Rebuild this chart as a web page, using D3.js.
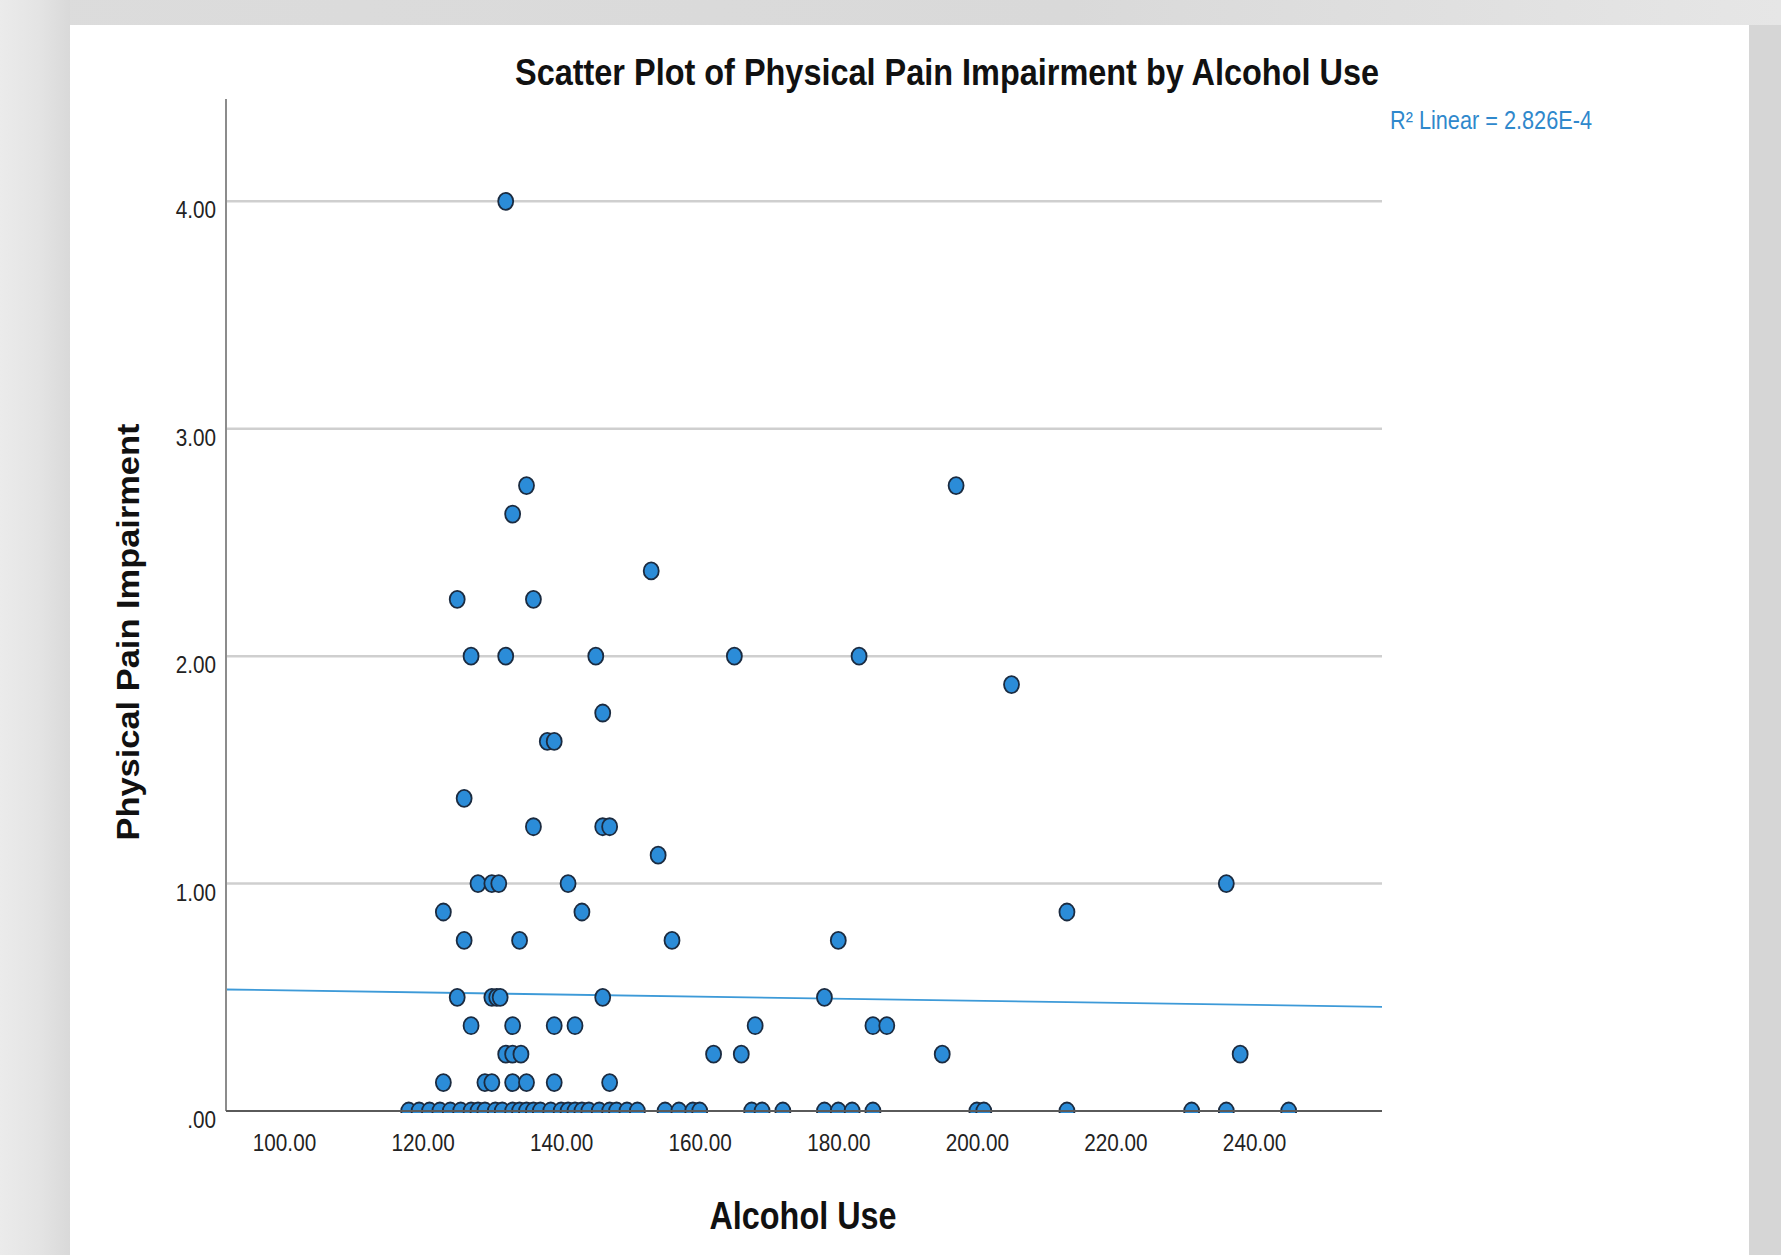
<!DOCTYPE html>
<html>
<head>
<meta charset="utf-8">
<script src="https://cdn.jsdelivr.net/npm/d3@7"></script>
<style>
  body { margin: 0; background: #dcdcdc; }
  svg { display: block; font-family: "Liberation Sans", Arial, sans-serif; }
</style>
</head>
<body>
<svg id="chart" width="1781" height="1255"></svg>
<script>
// Alcohol use score and physical pain impairment score for each respondent
const alcoholUse = [
  132,
  135, 197,
  133,
  153,
  125, 136,
  127, 132, 145, 165, 183,
  205,
  146,
  138, 139,
  126,
  136, 146, 147,
  154,
  128, 130, 131, 141, 236,
  123, 143, 213,
  126, 134, 156, 180,
  125, 130, 130.7, 131.2, 146, 178,
  127, 133, 139, 142, 168, 185, 187,
  132, 133, 134.2, 162, 166, 195, 238,
  123, 129, 130, 133, 135, 139, 147,
  118, 119.5, 121, 122.5, 124, 125.5, 127, 128, 129, 130.5, 131.5, 133, 134, 135,
  136, 137, 138.5, 140, 141, 142, 143, 144, 145.5, 147, 148, 149.5, 151,
  155, 157, 159, 160, 167.5, 169, 172, 178, 180, 182, 185, 200, 201, 213, 231, 236, 245
];
const painImpairment = [
  4.0,
  2.75, 2.75,
  2.625,
  2.375,
  2.25, 2.25,
  2.0, 2.0, 2.0, 2.0, 2.0,
  1.875,
  1.75,
  1.625, 1.625,
  1.375,
  1.25, 1.25, 1.25,
  1.125,
  1.0, 1.0, 1.0, 1.0, 1.0,
  0.875, 0.875, 0.875,
  0.75, 0.75, 0.75, 0.75,
  0.5, 0.5, 0.5, 0.5, 0.5, 0.5,
  0.375, 0.375, 0.375, 0.375, 0.375, 0.375, 0.375,
  0.25, 0.25, 0.25, 0.25, 0.25, 0.25, 0.25,
  0.125, 0.125, 0.125, 0.125, 0.125, 0.125, 0.125,
  0, 0, 0, 0, 0, 0, 0, 0, 0, 0, 0, 0, 0, 0,
  0, 0, 0, 0, 0, 0, 0, 0, 0, 0, 0, 0, 0,
  0, 0, 0, 0, 0, 0, 0, 0, 0, 0, 0, 0, 0, 0, 0, 0, 0
];

const xTicks = [100, 120, 140, 160, 180, 200, 220, 240];
const yTicks = [0, 1, 2, 3, 4];
const xDomain = [91.63, 258.47];
const yDomain = [0, 4.45];

// Linear fit line (intercept, slope) and its summary label
const fitIntercept = 0.576;
const fitSlope = -0.000456;
const fitLabel = "R\u00B2 Linear = 2.826E-4";

const titleText = "Scatter Plot of Physical Pain Impairment by Alcohol Use";
const xTitle = "Alcohol Use";
const yTitle = "Physical Pain Impairment";

const W = 1781, H = 1255;
const plot = { left: 226, right: 1382, top: 99, bottom: 1111 };
const panel = { left: 70, top: 25, right: 1749 };

const svg = d3.select("#chart");

// Page backdrop and white chart panel
const defs = svg.append("defs");
const topGrad = defs.append("linearGradient").attr("id", "topGrad").attr("x1", 0).attr("x2", 1).attr("y1", 0).attr("y2", 0);
topGrad.append("stop").attr("offset", 0).attr("stop-color", "#dcdcdc");
topGrad.append("stop").attr("offset", 0.6).attr("stop-color", "#d9d9d9");
topGrad.append("stop").attr("offset", 1).attr("stop-color", "#e6e6e6");
const leftGrad = defs.append("linearGradient").attr("id", "leftGrad").attr("x1", 0).attr("x2", 1).attr("y1", 0).attr("y2", 0);
leftGrad.append("stop").attr("offset", 0).attr("stop-color", "#ebebeb");
leftGrad.append("stop").attr("offset", 0.55).attr("stop-color", "#e4e4e4");
leftGrad.append("stop").attr("offset", 1).attr("stop-color", "#d9d9d9");

svg.append("rect").attr("width", W).attr("height", H).attr("fill", "url(#topGrad)");
svg.append("rect").attr("x", 0).attr("y", 0).attr("width", panel.left).attr("height", H).attr("fill", "url(#leftGrad)");
svg.append("rect").attr("x", panel.right).attr("y", panel.top).attr("width", W - panel.right).attr("height", H - panel.top).attr("fill", "#d6d6d6");
svg.append("rect").attr("x", panel.left).attr("y", panel.top)
  .attr("width", panel.right - panel.left).attr("height", H - panel.top).attr("fill", "#ffffff");

const x = d3.scaleLinear().domain(xDomain).range([plot.left, plot.right]);
const y = d3.scaleLinear().domain(yDomain).range([plot.bottom, plot.top]);

// Horizontal gridlines
svg.append("g")
  .selectAll("line")
  .data(yTicks.filter(v => v > 0))
  .join("line")
  .attr("x1", plot.left).attr("x2", plot.right)
  .attr("y1", d => y(d)).attr("y2", d => y(d))
  .attr("stroke", "#cfcfcf").attr("stroke-width", 2.5);

// Fit line
const fitPts = xDomain.map(v => [v, fitIntercept + fitSlope * v]);
svg.append("path")
  .attr("d", d3.line().x(d => x(d[0])).y(d => y(d[1]))(fitPts))
  .attr("fill", "none").attr("stroke", "#3d9ad8").attr("stroke-width", 1.8);

// Data points, clipped at the baseline
defs.append("clipPath").attr("id", "plotClip")
  .append("rect")
  .attr("x", plot.left).attr("y", plot.top - 20)
  .attr("width", plot.right - plot.left).attr("height", plot.bottom - plot.top + 22);

const points = alcoholUse.map((a, i) => ({ a, p: painImpairment[i] }));
svg.append("g").attr("clip-path", "url(#plotClip)")
  .selectAll("ellipse")
  .data(points)
  .join("ellipse")
  .attr("cx", d => x(d.a))
  .attr("cy", d => y(d.p))
  .attr("rx", 7.5).attr("ry", 8.5)
  .attr("fill", "#2b8cd8")
  .attr("stroke", "#1b2b40").attr("stroke-width", 1.8);

// Axis lines
svg.append("line")
  .attr("x1", plot.left).attr("x2", plot.left)
  .attr("y1", plot.top).attr("y2", plot.bottom)
  .attr("stroke", "#8c8c8c").attr("stroke-width", 2);
svg.append("line")
  .attr("x1", plot.left).attr("x2", plot.right)
  .attr("y1", plot.bottom).attr("y2", plot.bottom)
  .attr("stroke", "#5a5a5a").attr("stroke-width", 2);

// Tick labels
const fmt = d3.format(".2f");
const gx = svg.append("g")
  .attr("transform", `translate(0,${plot.bottom})`)
  .call(d3.axisBottom(x).tickValues(xTicks).tickSize(0).tickPadding(24).tickFormat(fmt));
const gy = svg.append("g")
  .attr("transform", `translate(${plot.left},0)`)
  .call(d3.axisLeft(y).tickValues(yTicks).tickSize(0).tickPadding(10)
    .tickFormat(v => v === 0 ? ".00" : fmt(v)));
[gx, gy].forEach(g => {
  g.select(".domain").remove();
  g.selectAll("text")
    .attr("font-family", "'Liberation Sans', Arial, sans-serif")
    .attr("font-size", 23)
    .attr("fill", "#222");
});
gy.selectAll("text").attr("dy", "0.72em");
[gx, gy].forEach(g => g.selectAll("text").each(function () {
  const len = this.getComputedTextLength();
  d3.select(this).attr("textLength", len * 0.9).attr("lengthAdjust", "spacingAndGlyphs");
}));

// Titles
svg.append("text")
  .attr("x", 947).attr("y", 85)
  .attr("text-anchor", "middle")
  .attr("font-size", 36).attr("font-weight", "bold").attr("fill", "#111")
  .attr("textLength", 864).attr("lengthAdjust", "spacingAndGlyphs")
  .text(titleText);

svg.append("text")
  .attr("x", 803).attr("y", 1229)
  .attr("text-anchor", "middle")
  .attr("font-size", 38).attr("font-weight", "bold").attr("fill", "#111")
  .attr("textLength", 187).attr("lengthAdjust", "spacingAndGlyphs")
  .text(xTitle);

svg.append("text")
  .attr("transform", "translate(139,632) rotate(-90)")
  .attr("text-anchor", "middle")
  .attr("font-size", 32).attr("font-weight", "bold").attr("fill", "#111")
  .attr("textLength", 417).attr("lengthAdjust", "spacingAndGlyphs")
  .text(yTitle);

svg.append("text")
  .attr("x", 1390).attr("y", 129)
  .attr("font-size", 26).attr("fill", "#2f88cc")
  .attr("textLength", 202).attr("lengthAdjust", "spacingAndGlyphs")
  .text(fitLabel);
</script>
</body>
</html>
